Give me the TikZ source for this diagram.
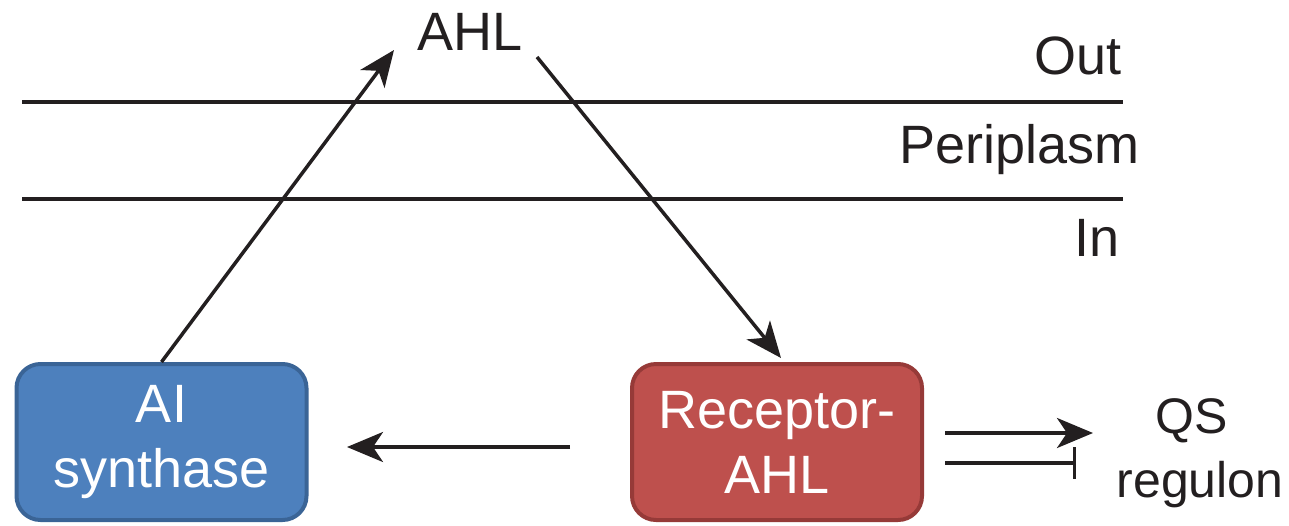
\documentclass[tikz,border=0pt]{standalone}
\usepackage{fontspec}
\setmainfont{Liberation Sans}
\usetikzlibrary{arrows.meta,calc}
\definecolor{boxblue}{RGB}{77,128,189}
\definecolor{boxblueline}{RGB}{58,100,150}
\definecolor{boxred}{RGB}{190,80,77}
\definecolor{boxredline}{RGB}{150,58,56}
\definecolor{ink}{RGB}{35,31,32}
\tikzset{
  lbl/.style={inner sep=0pt, text=ink, font=\fontsize{27pt}{32.5pt}\selectfont},
  membrane/.style={line width=1.75pt, draw=ink},
  conn/.style={line width=1.75pt, draw=ink, -{Stealth[length=18pt,width=15pt,inset=5pt]}},
  tee/.style={line width=1.75pt, draw=ink, -{Bar[width=16pt,line width=1.75pt]}},
  box/.style={rounded corners=12pt, line width=2pt, minimum width=145pt, minimum height=78pt,
    align=center, text=white, inner sep=0pt, font=\fontsize{27pt}{32.5pt}\selectfont},
}
\begin{document}
\begin{tikzpicture}[x=0.5pt,y=-0.5pt]
\useasboundingbox (0,0) rectangle (1289,525);
% membranes
\coordinate (m1a) at (22,102);
\coordinate (m1b) at (1123,102);
\coordinate (m2a) at (22,199);
\coordinate (m2b) at (1123,199);
\draw[membrane] (m1a) -- (m1b);
\draw[membrane] (m2a) -- (m2b);
% compartment labels
\node[lbl, anchor=base east] (out) at (1122,74) {Out};
\node[lbl, anchor=base west] (peri) at (899,163) {Periplasm};
\node[lbl, anchor=base east] (in) at (1120,256) {In};
% AHL
\node[lbl, anchor=base] (ahl) at (470,50) {AHL};
% boxes
\node[box, fill=boxblue, draw=boxblueline] (ai) at (161.5,442) {AI\\synthase};
\node[box, fill=boxred, draw=boxredline] (rec) at (777,442) {Receptor-\\AHL};
% QS regulon
\node[lbl, anchor=base, font=\fontsize{25pt}{30pt}\selectfont] (qs) at (1192,433) {QS};
\node[lbl, anchor=base, font=\fontsize{25pt}{30pt}\selectfont] (reg) at (1200,497) {regulon};
% connectors
\coordinate (t1) at (394,50);
\coordinate (s2) at (537,57);
\coordinate (t2) at (781,358);
\draw[conn] (ai.north) -- (t1);
\draw[conn] (s2) -- (t2);
\coordinate (s3) at (570,447);
\coordinate (t3) at (347,447);
\draw[conn] (s3) -- (t3);
\coordinate (s4) at (945,433);
\coordinate (t4) at (1093,433);
\draw[conn] (s4) -- (t4);
\coordinate (s5) at (945,463);
\coordinate (t5) at (1076,463);
\draw[tee] (s5) -- (t5);
\end{tikzpicture}
\end{document}
